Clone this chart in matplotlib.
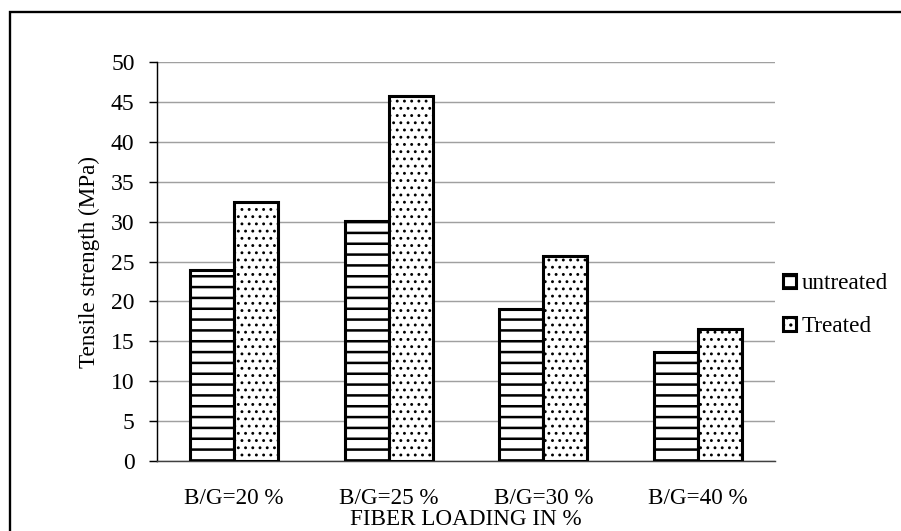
import numpy as np
import matplotlib.pyplot as plt
from matplotlib.patches import Rectangle

# Data
categories = ['B/G=20 %', 'B/G=25 %', 'B/G=30 %', 'B/G=40 %']
untreated = [23.9, 30.1, 19.1, 13.6]
treated = [32.5, 45.8, 25.7, 16.5]
yticks = list(range(0, 55, 5))

DPI = 130
FS = 13.2
plt.rcParams['font.family'] = ['Liberation Serif', 'DejaVu Serif']
fig = plt.figure(figsize=(901 / DPI, 531 / DPI), dpi=DPI)
ax = fig.add_axes([157 / 901, 70 / 531, 618 / 901, 399 / 531])

x = np.arange(len(categories))
w = 0.284
with plt.rc_context({'hatch.linewidth': 1.4}):
    b1 = ax.bar(x - w / 2, untreated, w, color='white', edgecolor='black',
                linewidth=1.7, hatch='--', label='untreated', zorder=3)
with plt.rc_context({'hatch.linewidth': 0.8}):
    b2 = ax.bar(x + w / 2, treated, w, color='white', edgecolor='black',
                linewidth=1.7, hatch='...', label='Treated', zorder=3)

ax.set_xlim(-0.5, 3.5)
ax.set_ylim(0, 50)
ax.set_yticks(yticks)
ax.set_xticks(x)
ax.set_xticklabels(categories, fontsize=FS - 0.4)
ax.tick_params(axis='x', length=0, pad=15)
ax.tick_params(axis='y', labelsize=FS, length=4.4, width=0.8,
               direction='out', pad=8)
ax.yaxis.grid(True, color='#a0a0a0', linewidth=0.8, zorder=0)
ax.set_axisbelow(True)
for s in ['top', 'right']:
    ax.spines[s].set_visible(False)
ax.spines['left'].set_linewidth(0.8)
ax.spines['bottom'].set_linewidth(0.8)
ax.spines['bottom'].set_color('#404040')

ax.set_ylabel('Tensile strength (MPa)', fontsize=FS - 0.4, labelpad=6)
ax.set_xlabel('FIBER LOADING IN %', fontsize=FS - 0.4, labelpad=0)

ax.legend(loc='center left', bbox_to_anchor=(0.995, 0.39), frameon=False,
          fontsize=FS - 0.4, handlelength=0.55, handleheight=0.55,
          handletextpad=0.25, labelspacing=0.95, borderaxespad=0.1)

# outer frame (cropped on right and bottom)
fig.patches.append(Rectangle((10 / 901, -0.1), 1.2, 1 - 12 / 531 + 0.1,
                             transform=fig.transFigure, fill=False,
                             edgecolor='black', linewidth=1.3))

fig.savefig('out.png', dpi=DPI)
